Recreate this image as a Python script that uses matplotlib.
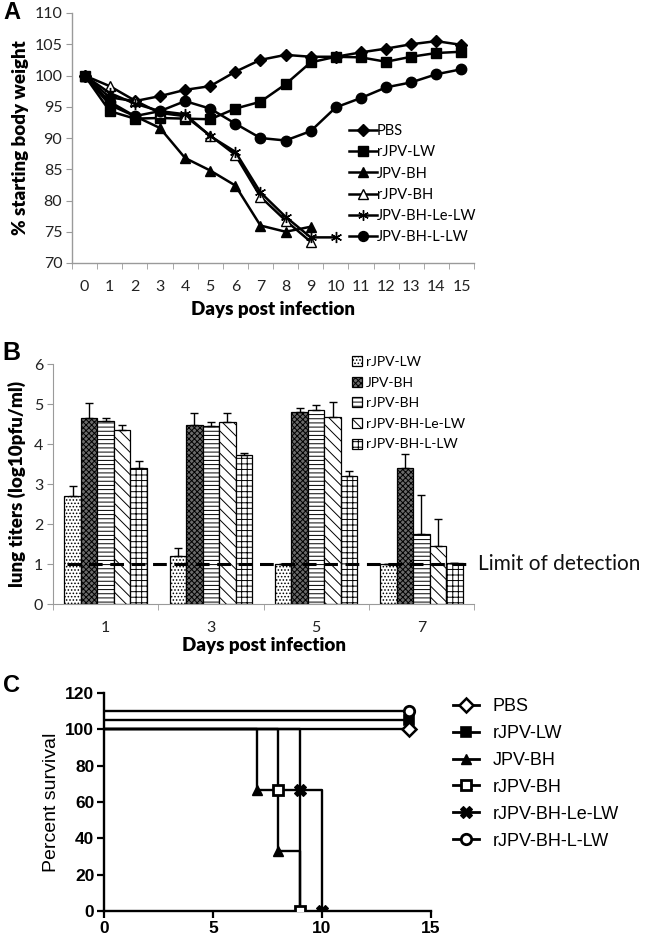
import matplotlib
matplotlib.use('Agg')
import matplotlib.pyplot as plt
import numpy as np
from matplotlib.lines import Line2D
from matplotlib.patches import Patch

W, H, DPI = 650, 936, 100
plt.rcParams['hatch.linewidth'] = 0.7

# ---------------- Panel A data ----------------
days_a = list(range(16))
names_a = ['PBS', 'rJPV-LW', 'JPV-BH', 'rJPV-BH', 'JPV-BH-Le-LW', 'JPV-BH-L-LW']
wt_pbs = [100, 96.5, 95.9, 96.7, 97.7, 98.3, 100.6, 102.5, 103.3, 103.0, 103.0, 103.7, 104.3, 105.0, 105.5, 104.9]
wt_rjpv_lw = [100, 94.3, 93.1, 93.2, 93.1, 93.0, 94.7, 95.8, 98.6, 102.1, 103.0, 102.9, 102.2, 103.0, 103.6, 103.8]
wt_jpv_bh = [100, 95.3, 93.5, 91.6, 86.8, 84.8, 82.4, 76.0, 75.0, 75.8]
wt_rjpv_bh = [100, 98.3, 96.0, 94.0, 93.5, 90.4, 87.3, 80.6, 76.8, 73.4]
wt_le_lw = [100, 97.2, 95.5, 94.3, 93.8, 90.3, 87.8, 81.3, 77.4, 74.1, 74.1]
wt_l_lw = [100, 95.8, 93.5, 94.3, 95.9, 94.7, 92.3, 90.0, 89.6, 91.1, 94.9, 96.4, 98.1, 98.9, 100.2, 101.0]
yticks_a = [70, 75, 80, 85, 90, 95, 100, 105, 110]

# ---------------- Panel B data ----------------
days_b = ['1', '3', '5', '7']
names_b = ['rJPV-LW', 'JPV-BH', 'rJPV-BH', 'rJPV-BH-Le-LW', 'rJPV-BH-L-LW']
tit_rjpv_lw = [2.70, 1.20, 1.00, 1.00]
tit_jpv_bh = [4.64, 4.48, 4.81, 3.39]
tit_rjpv_bh = [4.58, 4.46, 4.85, 1.74]
tit_le_lw = [4.35, 4.54, 4.67, 1.46]
tit_l_lw = [3.39, 3.72, 3.20, 1.02]
err_rjpv_lw = [0.26, 0.19, 0.0, 0.0]
err_jpv_bh = [0.39, 0.29, 0.10, 0.36]
err_rjpv_bh = [0.08, 0.10, 0.13, 0.99]
err_le_lw = [0.13, 0.23, 0.39, 0.67]
err_l_lw = [0.19, 0.05, 0.13, 0.0]
limit_of_detection = 1.0

# ---------------- Panel C data ----------------
names_c = ['PBS', 'rJPV-LW', 'JPV-BH', 'rJPV-BH', 'rJPV-BH-Le-LW', 'rJPV-BH-L-LW']
t_pbs, s_pbs = [0, 14], [100, 100]
t_rjpv_lw, s_rjpv_lw = [0, 14], [105, 105]
t_jpv_bh, s_jpv_bh = [0, 7, 8, 9], [100, 66.7, 33.3, 0]
t_rjpv_bh, s_rjpv_bh = [0, 8, 9], [100, 66.7, 0]
t_le_lw, s_le_lw = [0, 9, 10], [100, 66.7, 0]
t_l_lw, s_l_lw = [0, 14], [110, 110]

fig = plt.figure(figsize=(W / DPI, H / DPI), dpi=DPI)

def fbox(x0, y0, x1, y1):
    return [x0 / W, 1 - y1 / H, (x1 - x0) / W, (y1 - y0) / H]

CAL = ['Lato', 'DejaVu Sans']
ARI = ['Liberation Sans', 'DejaVu Sans']
GRAY = '#9a9a9a'

# ================= Panel A =================
axA = fig.add_axes(fbox(72, 13, 474, 263))
series_a = [wt_pbs, wt_rjpv_lw, wt_jpv_bh, wt_rjpv_bh, wt_le_lw, wt_l_lw]
mk_a = [dict(marker='D', ms=6, mfc='black'),
        dict(marker='s', ms=7.5, mfc='black'),
        dict(marker='^', ms=7.5, mfc='black'),
        dict(marker='^', ms=7.5, mfc='white'),
        dict(marker=(6, 2, 0), ms=8, mfc='black', mew=1.0),
        dict(marker='o', ms=7.5, mfc='black')]
for name, vals, mk in zip(names_a, series_a, mk_a):
    axA.plot(days_a[:len(vals)], vals, color='black', lw=1.8, mec='black', label=name, **mk)
axA.set_xlim(-0.5, 15.5)
axA.set_ylim(70, 110)
axA.set_yticks(yticks_a)
axA.set_xticks(days_a)
axA.set_xticks(np.arange(-0.5, 15.6, 1.0), minor=True)
axA.tick_params(axis='x', which='major', length=0, pad=12, labelsize=11.5)
axA.tick_params(axis='x', which='minor', length=4, color=GRAY, direction='out')
axA.tick_params(axis='y', length=4, color=GRAY, labelsize=11.5, pad=3)
for lab in axA.get_xticklabels() + axA.get_yticklabels():
    lab.set_family(CAL)
    lab.set_color('#222222')
for s in ['top', 'right']:
    axA.spines[s].set_visible(False)
for s in ['left', 'bottom']:
    axA.spines[s].set_color(GRAY)
    axA.spines[s].set_linewidth(1.0)
axA.set_xlabel('Days post infection', family=CAL, fontsize=13.5, fontweight='heavy', labelpad=5)
axA.set_ylabel('% starting body weight', family=CAL, fontsize=13.5, fontweight='heavy', labelpad=4)
legA = axA.legend(loc='upper left', bbox_to_anchor=(349 / W, 1 - 124 / H), bbox_transform=fig.transFigure,
                  frameon=False, prop={'family': CAL, 'size': 10.5}, handlelength=1.9, handletextpad=0.0,
                  labelspacing=0.5, borderpad=0, borderaxespad=0, markerscale=0.95)

# ================= Panel B =================
axB = fig.add_axes(fbox(53, 364, 474, 604))
xb = np.arange(len(days_b))
bw = 0.157
series_b = [tit_rjpv_lw, tit_jpv_bh, tit_rjpv_bh, tit_le_lw, tit_l_lw]
errs_b = [err_rjpv_lw, err_jpv_bh, err_rjpv_bh, err_le_lw, err_l_lw]
styles_b = [dict(facecolor='white', hatch='.....'),
            dict(facecolor='#6a6a6a', hatch='xxxxxx'),
            dict(facecolor='white', hatch='----'),
            dict(facecolor='white', hatch='\\\\\\'),
            dict(facecolor='white', hatch='+++')]
for i, (name, vals, er, st) in enumerate(zip(names_b, series_b, errs_b, styles_b)):
    pos = xb + (i - 2) * bw
    axB.bar(pos, vals, width=bw, edgecolor='black', linewidth=0.9, label=name, **st)
    axB.errorbar(pos, vals, yerr=[np.zeros(len(er)), er], fmt='none', ecolor='black',
                 elinewidth=1.0, capsize=3, capthick=1.0)
axB.axhline(limit_of_detection, xmin=0.033, xmax=0.995, color='black', lw=2.2, ls=(0, (4.5, 2.5)), zorder=5)
axB.text(1.01, limit_of_detection, 'Limit of detection', transform=axB.get_yaxis_transform(),
         ha='left', va='center', family=CAL, fontsize=15, color='#111111')
axB.set_xlim(-0.5, 3.5)
axB.set_ylim(0, 6)
axB.set_yticks(range(0, 7))
axB.set_xticks(xb)
axB.set_xticklabels(days_b)
axB.set_xticks(np.arange(-0.5, 3.6, 1.0), minor=True)
axB.tick_params(axis='x', which='major', length=0, pad=12, labelsize=11.5)
axB.tick_params(axis='x', which='minor', length=4, color=GRAY)
axB.tick_params(axis='y', length=4, color=GRAY, labelsize=11.5, pad=3)
for lab in axB.get_xticklabels() + axB.get_yticklabels():
    lab.set_family(CAL)
    lab.set_color('#222222')
for s in ['top', 'right']:
    axB.spines[s].set_visible(False)
for s in ['left', 'bottom']:
    axB.spines[s].set_color(GRAY)
axB.set_xlabel('Days post infection', family=CAL, fontsize=13.5, fontweight='heavy', labelpad=2)
axB.set_ylabel('lung titers (log10pfu/ml)', family=CAL, fontsize=13.5, fontweight='heavy', labelpad=6)
legB = axB.legend(loc='upper left', bbox_to_anchor=(352 / W, 1 - 356 / H), bbox_transform=fig.transFigure,
                  frameon=False, prop={'family': CAL, 'size': 10}, handlelength=0.75, handleheight=0.75,
                  handletextpad=0.25, labelspacing=0.62, borderpad=0, borderaxespad=0)

# ================= Panel C =================
axC = fig.add_axes(fbox(104, 693, 431, 911))
surv = [(t_pbs, s_pbs), (t_rjpv_lw, s_rjpv_lw), (t_jpv_bh, s_jpv_bh),
        (t_rjpv_bh, s_rjpv_bh), (t_le_lw, s_le_lw), (t_l_lw, s_l_lw)]
mk_c = [dict(marker='D', ms=7, mfc='white', mew=1.8),
        dict(marker='s', ms=7, mfc='black', mew=1.2),
        dict(marker='^', ms=7.5, mfc='black', mew=1.0),
        dict(marker='s', ms=7.5, mfc='white', mew=2.0),
        dict(marker='X', ms=8, mfc='black', mew=0.8),
        dict(marker='o', ms=7.5, mfc='white', mew=2.0)]
order = [1, 0, 5, 2, 3, 4]
for k in order:
    t, s = surv[k]
    axC.step(t, s, where='post', color='black', lw=1.7, zorder=3)
    axC.plot(t[1:], s[1:], ls='none', color='black', mec='black', zorder=4, **mk_c[k])
axC.set_xlim(0, 15)
axC.set_ylim(0, 120)
axC.set_xticks([0, 5, 10, 15])
axC.set_yticks(range(0, 121, 20))
axC.tick_params(width=1.6, length=5, labelsize=12.5, pad=2)
for lab in axC.get_xticklabels() + axC.get_yticklabels():
    lab.set_family(ARI)
    lab.set_fontweight('bold')
for s in ['top', 'right']:
    axC.spines[s].set_visible(False)
for s in ['left', 'bottom']:
    axC.spines[s].set_linewidth(1.7)
axC.spines['left'].set_zorder(5)
axC.set_ylabel('Percent survival', family=ARI, fontsize=14, labelpad=4)
handles_c = [Line2D([0], [0], color='black', lw=2.0, mec='black', **mk_c[k]) for k in range(6)]
axC.legend(handles_c, names_c, loc='upper left', bbox_to_anchor=(453 / W, 1 - 698 / H),
           bbox_transform=fig.transFigure, frameon=False, prop={'family': ARI, 'size': 13},
           handlelength=1.45, handletextpad=0.75, labelspacing=0.55, borderpad=0, borderaxespad=0)

# Panel letters
fig.text(3 / W, 1 - 1 / H, 'A', family=ARI, fontsize=17, fontweight='bold', va='top', ha='left')
fig.text(2 / W, 1 - 341 / H, 'B', family=ARI, fontsize=18, fontweight='bold', va='top', ha='left')
fig.text(3 / W, 1 - 674 / H, 'C', family=ARI, fontsize=17, fontweight='bold', va='top', ha='left')

fig.savefig('out.png', dpi=DPI)
